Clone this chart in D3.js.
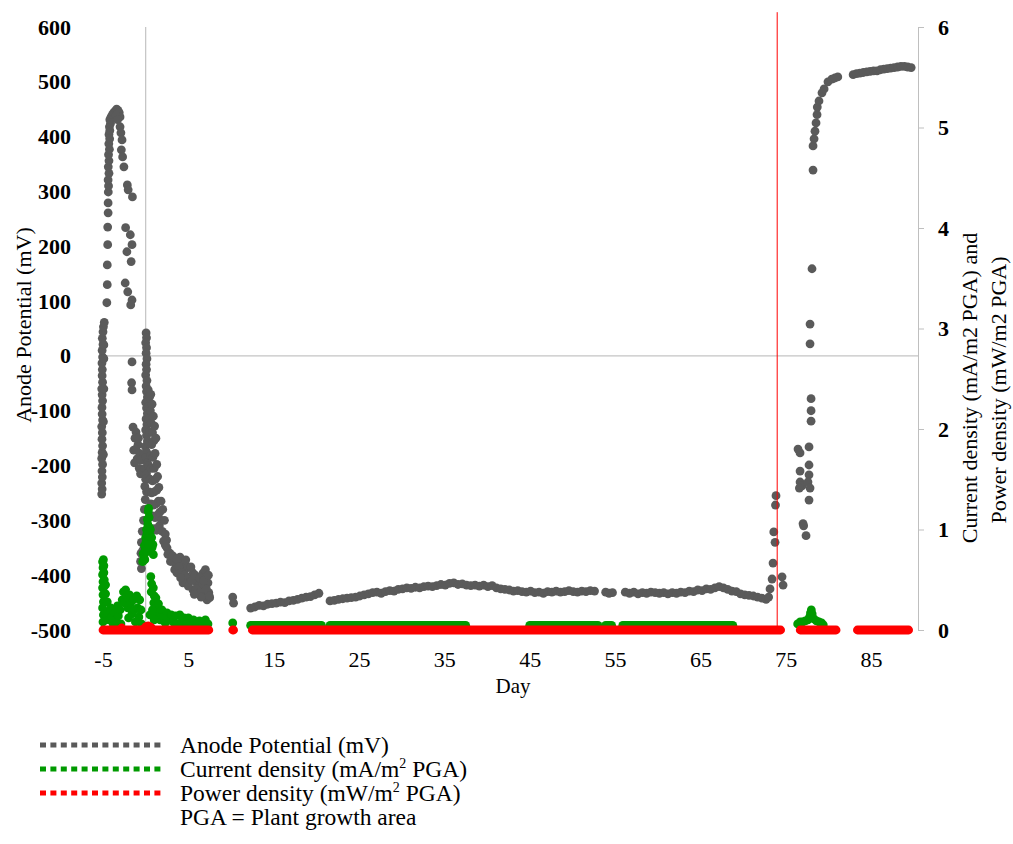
<!DOCTYPE html>
<html>
<head>
<meta charset="utf-8">
<script src="https://cdn.jsdelivr.net/npm/d3@7"></script>
<style>
  body { margin: 0; background: #fff; }
  text { font-family: "Liberation Serif", "Times New Roman", serif; fill: #000; }
</style>
</head>
<body>
<svg id="chart" width="1013" height="844"></svg>
<script>
// axis ticks
const dayTicks = [-5, 5, 15, 25, 35, 45, 55, 65, 75, 85];
const potTicks = [-500, -400, -300, -200, -100, 0, 100, 200, 300, 400, 500, 600];
const densTicks = [0, 1, 2, 3, 4, 5, 6];
const markerDay = 74;

// anode potential (mV), [day, value]
const anodePotential = [
  [-5.15,-252],[-5.1,-243],[-5.15,-232],[-5.08,-221],[-5.12,-210],[-5.05,-198],[-5.15,-187],[-5.1,-176],
  [-5.05,-164],[-5.12,-152],[-5.08,-140],[-5.15,-129],[-5.05,-117],[-5.1,-106],[-5.12,-94],[-5.05,-82],
  [-5.1,-71],[-5.15,-60],[-5.05,-48],[-5.1,-36],[-5.08,-25],[-5.12,-13],[-5.05,-2],[-5.1,10],[-5.0,21],
  [-5.08,32],[-5.0,44],[-4.95,53],[-4.85,61],[-4.9,-5],[-4.9,-60],[-4.95,-120],[-4.95,-180],[-4.9,20],
  [-4.55,97],[-4.5,130],[-4.5,166],[-4.45,203],[-4.45,235],[-4.4,261],[-4.4,279],[-4.38,299],[-4.35,310],
  [-4.4,321],[-4.3,333],[-4.38,345],[-4.3,356],[-4.35,367],[-4.25,377],[-4.32,387],[-4.22,396],[-4.3,404],
  [-4.2,411],[-4.25,418],[-4.12,424],[-4.2,431],[-4.05,436],
  [-3.9,440],[-3.75,444],[-3.55,447],[-3.4,450],[-3.25,448],[-3.1,444],[-3.0,436],[-3.45,439],[-3.3,431],
  [-3.0,418],[-2.9,407],[-2.77,394],[-2.85,376],[-2.7,363],[-2.55,345],[-2.15,312],[-2.05,303],[-1.55,290],
  [-2.35,234],[-1.8,221],[-1.6,203],[-2.2,190],[-1.7,172],[-2.4,133],[-2.1,117],[-1.6,102],[-1.75,93],
  [-1.6,-11],[-1.65,-49],[-1.6,-62],
  [-1.48,-130],[-1.13,-139],[-1.25,-150],[-0.9,-162],[-1.4,-172],[-0.7,-178],[-1.0,-188],[-1.3,-195],
  [-0.85,-150],[-0.75,-205],[-1.15,-170],[-0.6,-215],[-0.55,-190],
  [0.05,42],[0.1,33],[0.0,24],[0.1,15],[0.05,5],[0.15,-5],[0.05,-15],[0.1,-25],[0.0,-35],[0.15,-45],
  [0.05,-55],[0.1,-65],[0.2,-75],[0.0,-85],[0.1,-95],[0.2,-105],[0.05,-115],[0.15,-125],[0.0,-135],
  [0.1,-145],[0.2,-155],[-0.05,-165],[0.1,-175],[0.0,-185],[0.2,-195],[-0.1,-205],[0.1,-215],[0.0,-225],
  [-0.1,-238],[0.1,-248],[-0.05,-262],[-0.15,-280],[-0.25,-300],[-0.4,-320],[-0.5,-340],[-0.55,-360],
  [-0.6,-375],[-0.5,-388],[-0.35,-355],
  [0.3,-62],[0.45,-75],[0.6,-70],[0.4,-92],[0.55,-100],[0.75,-88],[0.35,-115],[0.65,-122],[0.9,-110],
  [0.5,-138],[0.8,-140],[1.05,-128],[0.4,-160],[0.7,-162],[0.95,-155],[1.2,-150],[0.55,-182],[0.85,-185],
  [1.1,-178],[0.35,-200],[0.65,-205],[1.0,-205],[1.3,-198],[0.5,-225],[0.8,-228],[1.15,-225],[1.4,-220],
  [0.4,-248],[0.7,-250],[1.0,-248],[1.3,-245],[1.55,-240],[0.6,-270],[0.9,-272],[1.2,-270],[1.5,-265],
  [0.8,-292],[1.1,-295],[1.4,-290],[1.65,-285],[1.0,-315],[1.3,-318],[1.6,-310],[1.85,-300],
  [1.8,-265],[2.0,-280],[2.2,-300],[1.95,-320],[2.3,-325],[2.1,-338],[2.45,-336],
  [2.5,-350],[2.85,-360],[3.09,-372],[3.44,-378],[3.67,-396],[4.02,-367],[4.37,-378],[4.61,-390],
  [4.84,-409],[4.96,-385],[5.19,-403],[5.55,-396],[6.01,-414],[6.13,-427],[6.6,-421],[6.72,-396],
  [6.95,-432],[7.19,-445],[7.3,-414],[7.4,-432],[7.5,-441],[4.37,-414],[5.55,-427],[3.4,-390],
  [2.3,-345],[2.6,-362],[2.9,-375],[3.2,-365],[3.6,-370],[3.9,-385],[4.2,-395],[4.5,-400],[4.7,-372],
  [5.0,-420],[5.3,-385],[5.4,-410],[5.8,-400],[5.9,-425],[6.3,-405],[6.4,-432],[6.8,-410],[7.0,-390],
  [7.1,-425],[7.35,-400],[7.45,-438],[6.5,-440],[5.7,-435],[4.1,-405],
  [10.2,-440],[10.3,-451],
  [12.3,-460],[12.8,-458],[13.3,-455],[13.8,-456],[14.3,-453],[14.8,-452],[15.3,-451],[15.8,-449],
  [16.3,-450],[16.8,-447],[17.3,-446],[17.8,-444],[18.3,-442],[18.8,-440],[19.3,-439],[19.8,-436],
  [20.3,-433],
  [21.6,-447],[22.1,-446],[22.6,-444],[23.1,-443],[23.6,-442],[24.1,-441],[24.6,-440],[25.1,-438],
  [25.6,-436],[26.1,-434],[26.6,-432],[27.1,-431],[27.6,-433],[28.1,-430],[28.6,-428],[29.1,-429],
  [29.6,-426],[30.1,-425],[30.6,-423],[31.1,-424],[31.6,-422],[32.1,-423],[32.6,-421],[33.1,-420],
  [33.6,-421],[34.1,-419],[34.6,-417],[35.1,-418],[35.6,-415],[36.1,-414],[36.6,-417],[37.1,-416],
  [37.6,-418],[38.1,-419],[38.6,-418],[39.1,-420],[39.6,-418],[40.1,-421],[40.6,-419],[41.1,-423],
  [41.6,-425],[42.1,-426],[42.6,-427],[43.1,-429],[43.6,-428],[44.1,-430],[44.6,-431],[45.1,-429],
  [45.6,-432],[46.1,-431],[46.6,-433],[47.1,-430],[47.6,-431],[48.1,-429],[48.6,-431],[49.1,-430],
  [49.6,-428],[50.1,-430],[50.6,-431],[51.1,-429],[51.6,-430],[52.1,-428],[52.6,-429],
  [53.9,-431],[54.3,-433],[54.7,-432],
  [56.2,-431],[56.7,-433],[57.2,-431],[57.7,-434],[58.2,-432],[58.7,-433],[59.2,-431],[59.7,-432],
  [60.2,-433],[60.7,-432],[61.2,-434],[61.7,-432],[62.2,-433],[62.7,-431],[63.2,-432],[63.7,-429],
  [64.2,-430],[64.7,-427],[65.2,-428],[65.7,-425],[66.2,-426],[66.7,-423],[67.2,-421],[67.7,-423],
  [68.2,-426],[68.7,-429],[69.2,-430],[69.7,-434],[70.2,-436],[70.7,-437],[71.2,-438],[71.7,-440],
  [72.2,-442],[72.7,-444],[73.0,-440],
  [73.16,-425],[73.4,-407],[73.51,-378],[73.6,-321],[73.75,-340],[73.86,-255],[73.8,-272],[74.57,-403],
  [74.69,-418],
  [76.44,-170],[76.68,-177],[76.68,-210],[76.68,-230],[76.91,-237],[76.6,-241],[77.03,-306],[77.1,-310],
  [77.38,-328],[77.73,-166],[77.73,-199],[77.73,-217],[77.61,-230],[77.85,-241],[77.73,-263],[77.97,-78],
  [77.97,-100],[77.97,-119],[77.85,58],[77.85,22],[78.08,159],[78.2,339],
  [78.2,383],[78.32,396],[78.43,410],[78.55,425],[78.67,440],[78.7,454],[78.9,465],[79.25,480],
  [79.5,487],[79.95,500],[80.4,505],[80.77,507],[81.1,509],
  [82.9,513],[83.3,515],[83.7,516],[84.1,517],[84.5,518],[84.9,519],[85.3,520],[85.7,520],[86.1,522],
  [86.5,523],[86.9,524],[87.3,525],[87.7,526],[88.1,527],[88.5,528],[88.9,528],[89.3,527],[89.7,526]
];

// current density (mA/m2 PGA), [day, value]
const currentDensity = [
  [-5.05,0.68],[-4.95,0.7],[-5.0,0.62],[-4.9,0.64],[-5.05,0.55],[-4.9,0.57],[-5.0,0.48],[-4.85,0.5],
  [-5.05,0.42],[-4.9,0.43],[-5.0,0.35],[-4.95,0.28],[-5.05,0.22],[-4.95,0.15],[-5.0,0.08],[-4.7,0.45],
  [-4.7,0.36],
  [-4.5,0.28],[-4.45,0.18],[-4.3,0.1],[-4.1,0.22],[-4.0,0.13],[-3.8,0.06],[-3.6,0.17],[-3.5,0.09],
  [-3.3,0.24],[-3.2,0.14],[-3.0,0.2],[-2.9,0.06],[-2.75,0.3],[-2.6,0.38],[-2.5,0.27],[-2.35,0.4],
  [-2.2,0.33],[-2.1,0.22],[-2.0,0.12],[-1.9,0.35],[-1.75,0.27],[-1.6,0.16],[-1.45,0.3],[-1.3,0.2],
  [-1.2,0.08],[-1.05,0.34],[-0.95,0.22],[-0.8,0.13],[-0.7,0.3],[-0.55,0.2],[-0.5,0.06],
  [-0.35,0.68],[-0.3,0.76],[-0.2,0.72],[-0.15,0.84],[-0.05,0.8],[0.0,0.92],[0.05,0.88],[0.1,1.0],
  [0.15,0.96],[0.2,1.1],[0.25,1.05],[0.3,1.18],[0.35,1.21],[0.4,1.12],[0.45,1.02],[0.5,0.95],
  [0.55,1.0],[0.6,0.88],[0.7,0.92],[0.75,0.82],[0.85,0.85],[0.9,0.75],[0.2,0.78],[0.4,0.85],[-0.1,0.7],
  [0.6,0.53],[0.7,0.46],[0.65,0.38],[0.9,0.42],[1.0,0.34],[0.95,0.27],[1.2,0.32],[1.3,0.24],[1.25,0.16],
  [1.5,0.26],[1.6,0.18],[1.7,0.1],[1.9,0.2],[2.1,0.13],[2.3,0.07],[2.5,0.17],[2.7,0.1],[3.0,0.15],
  [3.2,0.08],[3.5,0.14],[3.7,0.06],[4.0,0.15],[4.2,0.08],[4.5,0.12],[4.8,0.06],[5.0,0.12],[5.3,0.07],
  [5.6,0.1],[6.0,0.05],[6.3,0.09],[6.7,0.06],[7.0,0.1],[7.3,0.06],[0.5,0.15],[1.0,0.1],[0.8,0.2],
  [10.2,0.07],
  [76.4,0.06],[76.7,0.08],[77.0,0.08],[77.3,0.09],[77.6,0.1],[77.8,0.13],[77.9,0.17],[78.0,0.2],
  [78.1,0.16],[78.3,0.11],[78.6,0.09],[78.9,0.08],[79.2,0.07],[79.4,0.05]
];
// stretches where the current readings sit flat just above zero: [from, to, value]
const currentRuns = [[12.3,20.6,0.045],[21.6,37.5,0.045],[45.0,53.0,0.045],[53.9,54.6,0.045],[55.9,68.8,0.045]];

// power density (mW/m2 PGA)
const powerDensity = [[-2.8,0.02],[-0.1,0.02],[0.1,0.035],[0.3,0.04],[0.5,0.03],[0.7,0.02]];
const powerRuns = [[-5.0,7.4,0],[10.2,10.3,0],[12.5,74.4,0],[76.7,80.9,0],[83.4,89.4,0]];

const legendItems = [
  {label: "Anode Potential (mV)", color: "#5a5a5a"},
  {label: "Current density (mA/m", sup: "2", tail: " PGA)", color: "#009a00"},
  {label: "Power density (mW/m", sup: "2", tail: " PGA)", color: "#ff0000"}
];

const svg = d3.select("#chart");
const r = 4.4;
const fmt = d => String(d);  // plain hyphen minus, as in the original

let x = d3.scaleLinear().domain([-5, 90.5]).range([103, 918]);
let yPot = d3.scaleLinear().domain([-500, 600]).range([630, 27]);
let yDens = d3.scaleLinear().domain([0, 6]).range([630, 27]);

// crossing axes lines (x axis at 0 mV, y axis at day 0)
svg.append("line")
  .attr("x1", x(-5)).attr("x2", x(90.5))
  .attr("y1", yPot(0)).attr("y2", yPot(0))
  .attr("stroke", "#c4c4c4").attr("stroke-width", 1.2);
svg.append("line")
  .attr("x1", x(0)).attr("x2", x(0))
  .attr("y1", yPot(600)).attr("y2", yPot(-500))
  .attr("stroke", "#c4c4c4").attr("stroke-width", 1.2);

// left labels
let leftAxis = svg.append("g")
  .attr("transform", "translate(71,0)")
  .call(d3.axisLeft(yPot).tickValues(potTicks).tickFormat(fmt).tickSize(0).tickPadding(0));
leftAxis.select(".domain").remove();
leftAxis.selectAll("text")
  .attr("font-size", 22).attr("font-weight", "bold")
  .style("font-family", "'Liberation Serif', serif");

// right axis
let rightAxis = svg.append("g")
  .attr("transform", "translate(918,0)")
  .call(d3.axisRight(yDens).tickValues(densTicks).tickFormat(fmt).tickSize(6).tickPadding(14));
rightAxis.select(".domain").attr("stroke", "#bfbfbf");
rightAxis.selectAll(".tick line").attr("stroke", "#bfbfbf");
rightAxis.selectAll("text")
  .attr("font-size", 22).attr("font-weight", "bold")
  .style("font-family", "'Liberation Serif', serif");

// bottom labels
let bottomAxis = svg.append("g")
  .attr("transform", "translate(0,651)")
  .call(d3.axisBottom(x).tickValues(dayTicks).tickFormat(fmt).tickSize(0).tickPadding(0));
bottomAxis.select(".domain").remove();
bottomAxis.selectAll("text")
  .attr("font-size", 22)
  .style("font-family", "'Liberation Serif', serif");

// axis titles
svg.append("text")
  .attr("transform", "translate(513,693)")
  .attr("text-anchor", "middle").attr("font-size", 21)
  .text("Day");
svg.append("text")
  .attr("transform", "translate(31,325) rotate(-90)")
  .attr("text-anchor", "middle").attr("font-size", 22)
  .text("Anode Potential (mV)");
svg.append("text")
  .attr("transform", "translate(977,388) rotate(-90)")
  .attr("text-anchor", "middle").attr("font-size", 22)
  .text("Current density (mA/m2 PGA) and");
svg.append("text")
  .attr("transform", "translate(1006,390) rotate(-90)")
  .attr("text-anchor", "middle").attr("font-size", 22)
  .text("Power density (mW/m2 PGA)");

// series
svg.append("g").selectAll("circle")
  .data(anodePotential).enter().append("circle")
  .attr("cx", d => x(d[0])).attr("cy", d => yPot(d[1]))
  .attr("r", r).attr("fill", "#5a5a5a");

svg.append("g").selectAll("line")
  .data(currentRuns).enter().append("line")
  .attr("x1", d => x(d[0])).attr("x2", d => x(d[1]))
  .attr("y1", d => yDens(d[2])).attr("y2", d => yDens(d[2]))
  .attr("stroke", "#009a00").attr("stroke-width", 2 * r).attr("stroke-linecap", "round");
svg.append("g").selectAll("circle")
  .data(currentDensity).enter().append("circle")
  .attr("cx", d => x(d[0])).attr("cy", d => yDens(d[1]))
  .attr("r", r).attr("fill", "#009a00");

svg.append("g").selectAll("line")
  .data(powerRuns).enter().append("line")
  .attr("x1", d => x(d[0])).attr("x2", d => x(d[1]))
  .attr("y1", d => yDens(d[2])).attr("y2", d => yDens(d[2]))
  .attr("stroke", "#ff0000").attr("stroke-width", 2 * r).attr("stroke-linecap", "round");
svg.append("g").selectAll("circle")
  .data(powerDensity).enter().append("circle")
  .attr("cx", d => x(d[0])).attr("cy", d => yDens(d[1]))
  .attr("r", r).attr("fill", "#ff0000");

// marker line
svg.append("line")
  .attr("x1", x(markerDay)).attr("x2", x(markerDay))
  .attr("y1", yPot(627)).attr("y2", yPot(-500))
  .attr("stroke", "#ff0000").attr("stroke-width", 1);

// legend
let legend = svg.append("g").attr("transform", "translate(0,745)");
legendItems.forEach(function(item, i) {
  let row = legend.append("g").attr("transform", "translate(0," + (i * 24) + ")");
  row.append("line")
    .attr("x1", 40).attr("x2", 164).attr("y1", 0).attr("y2", 0)
    .attr("stroke", item.color).attr("stroke-width", 5)
    .attr("stroke-dasharray", "6,4.4");
  let t = row.append("text").attr("x", 180).attr("y", 8).attr("font-size", 23.5).text(item.label);
  if (item.sup) {
    t.append("tspan").attr("font-size", 14).attr("dy", -9).text(item.sup);
    t.append("tspan").attr("dy", 9).text(item.tail);
  }
});
legend.append("text")
  .attr("x", 180).attr("y", 3 * 24 + 8).attr("font-size", 23.5)
  .text("PGA = Plant growth area");
</script>
</body>
</html>
